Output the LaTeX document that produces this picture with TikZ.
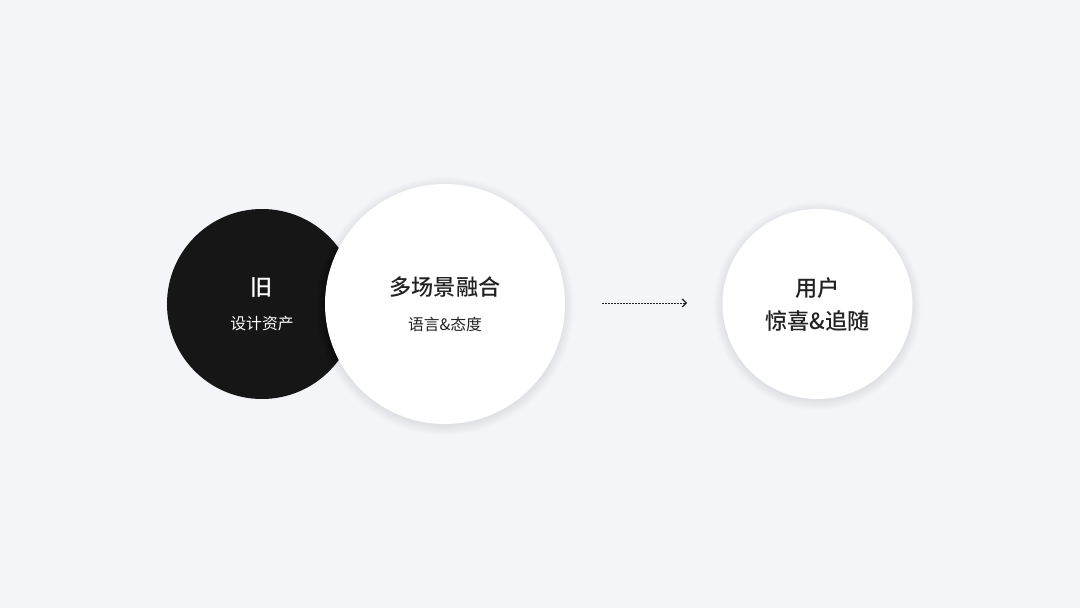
\documentclass[tikz,border=0pt]{standalone}
\usepackage{fontspec}
\newfontfamily\cjk{Noto Sans CJK SC}
\newfontfamily\cjkm{Noto Sans CJK SC Medium}
\usetikzlibrary{arrows.meta}
\definecolor{bg}{HTML}{F3F5F9}
\definecolor{ink}{HTML}{222222}
\definecolor{blk}{HTML}{161616}
\begin{document}
\begin{tikzpicture}[x=1pt,y=-1pt,
  title/.style={font=\cjkm\fontsize{22.2}{25}\selectfont, text=ink, inner sep=0pt},
  sub/.style={font=\cjk\fontsize{15.8}{18}\selectfont, text=ink, inner sep=0pt},
  shade/.style={fill=black, opacity=0.007}]
\fill[bg] (0,0) rectangle (1080,608);
\useasboundingbox (0,0) rectangle (1080,608);
% black circle
\node[circle, fill=blk, minimum size=190pt, inner sep=0pt] (old) at (262,304) {};
% soft shadows
\foreach \r in {0,1,...,9} {
  \fill[shade] (445,306) circle ({120+\r});
  \fill[shade] (817.5,306) circle ({95+\r});
}
\node[circle, fill=white, minimum size=240pt, inner sep=0pt] (mix) at (445,304) {};
\node[circle, fill=white, minimum size=190pt, inner sep=0pt] (user) at (817.5,304) {};
% texts
\node[title, text=white] (t1) at (262,287) {旧};
\node[sub, text=white] (s1) at (262,324) {设计资产};
\node[title] (t2) at (445,287) {多场景融合};
\node[sub] (s2) at (445,324) {语言\&态度};
\node[title] (t3) at (817.5,288) {用户};
\node[title] (t4) at (817.5,321) {惊喜\&追随};
% arrow
\coordinate (a1) at (602,303);
\coordinate (a2) at (687,303);
\draw[ink, line width=1pt, dash pattern=on 1.5pt off 1.5pt, -{Straight Barb[length=4pt,width=8pt,line width=1.2pt]}] (a1) -- (a2);
\end{tikzpicture}
\end{document}
